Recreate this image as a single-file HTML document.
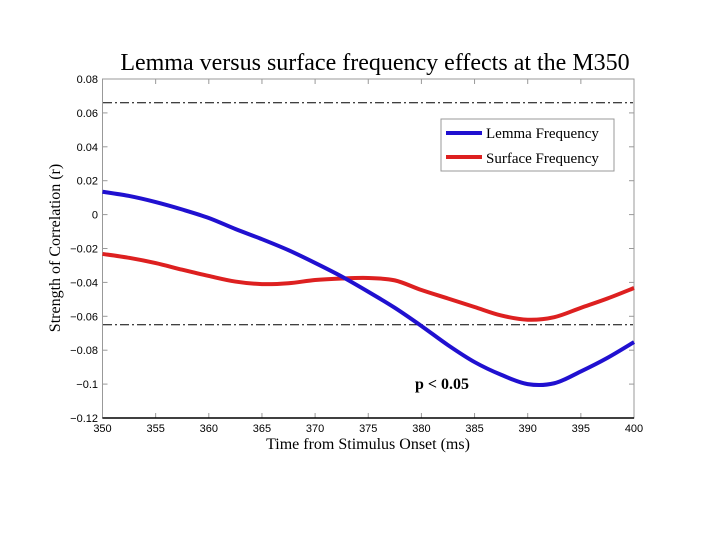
<!DOCTYPE html>
<html><head><meta charset="utf-8"><style>
body{margin:0;background:#fff;width:720px;height:540px;overflow:hidden}
svg text{fill:#000}
</style></head><body>
<svg id="chart" width="720" height="540" xmlns="http://www.w3.org/2000/svg">
<text x="375" y="70" text-anchor="middle" font-family="Liberation Serif, serif" font-size="24">Lemma versus surface frequency effects at the M350</text>
<rect x="102.5" y="79" width="531.5" height="339" fill="none" stroke="#999" stroke-width="1"/>
<g id="axes"></g>
<g id="series"></g>
<text x="415" y="389" font-family="Liberation Serif, serif" font-weight="bold" font-size="16">p &lt; 0.05</text>
<g>
<rect x="441" y="119" width="173" height="52" fill="#fff" stroke="#999"/>
<line x1="446" y1="133" x2="482" y2="133" stroke="#2010d0" stroke-width="4"/>
<text x="486" y="138" font-family="Liberation Serif, serif" font-size="15">Lemma Frequency</text>
<line x1="446" y1="157" x2="482" y2="157" stroke="#dd2020" stroke-width="4"/>
<text x="486" y="163" font-family="Liberation Serif, serif" font-size="15">Surface Frequency</text>
</g>
<text x="368" y="449" text-anchor="middle" font-family="Liberation Serif, serif" font-size="16">Time from Stimulus Onset (ms)</text>
<text transform="translate(60,248) rotate(-90)" text-anchor="middle" font-family="Liberation Serif, serif" font-size="16">Strength of Correlation (r)</text>
</svg>
<script>
const xTicks=[350,355,360,365,370,375,380,385,390,395,400];
const yTicks=[0.08,0.06,0.04,0.02,0,-0.02,-0.04,-0.06,-0.08,-0.1,-0.12];
const yTickLabels=["0.08","0.06","0.04","0.02","0","\u22120.02","\u22120.04","\u22120.06","\u22120.08","\u22120.1","\u22120.12"];
const times=[350,352.5,355,357.5,360,362.5,365,367.5,370,372.5,375,377.5,380,382.5,385,387.5,390,392.5,395,397.5,400];
const lemma=[0.0135,0.011,0.0074,0.003,-0.002,-0.0085,-0.0145,-0.021,-0.0285,-0.0365,-0.0455,-0.055,-0.0657,-0.077,-0.087,-0.0945,-0.1,-0.0995,-0.0925,-0.0845,-0.0752];
const surface=[-0.0232,-0.0255,-0.0286,-0.0325,-0.0362,-0.0395,-0.041,-0.0405,-0.0386,-0.0377,-0.0374,-0.0388,-0.0445,-0.0495,-0.0545,-0.0595,-0.062,-0.0605,-0.055,-0.0495,-0.0433];
const sigLevels=[0.066,-0.065];
const X=v=>102.5+(v-350)/50*531.5, Y=v=>79+(0.08-v)/0.2*339;
const NS="http://www.w3.org/2000/svg";
const ax=document.getElementById('axes'), se=document.getElementById('series');
function mk(tag,a,p){const e=document.createElementNS(NS,tag);for(const k in a)e.setAttribute(k,a[k]);p.appendChild(e);return e;}
xTicks.forEach(t=>{
 const l=mk('line',{x1:X(t),x2:X(t),y1:418,y2:413,stroke:'#999'},ax);
 
 
 mk('line',{x1:X(t),x2:X(t),y1:79,y2:84,stroke:'#999'},ax);
 const tx=mk('text',{x:X(t),y:432,'text-anchor':'middle','font-family':'Liberation Sans, sans-serif','font-size':11},ax);
 tx.textContent=t;
 
 
});
yTicks.forEach((t,i)=>{
 const l=mk('line',{x1:102.5,x2:107.5,y1:Y(t),y2:Y(t),stroke:'#999'},ax);
 
 
 mk('line',{x1:634,x2:629,y1:Y(t),y2:Y(t),stroke:'#999'},ax);
 const tx=mk('text',{x:98,y:Y(t)+4,'text-anchor':'end','font-family':'Liberation Sans, sans-serif','font-size':11},ax);
 tx.textContent=yTickLabels[i];
 
 
});
mk('line',{x1:102.5,x2:634,y1:418,y2:418,stroke:'#000','stroke-width':1.5},ax);
sigLevels.forEach(v=>{
 const l=mk('line',{x1:103,x2:633,y1:Y(v),y2:Y(v),stroke:'#000','stroke-width':1,'stroke-dasharray':'9,3,2,3'},ax);
 
 
});
function path(vals){
 const p=times.map((t,i)=>[X(t),Y(vals[i])]);
 let d='M'+p[0][0]+','+p[0][1];
 for(let i=0;i<p.length-1;i++){
  const p0=p[i-1]||p[i],p1=p[i],p2=p[i+1],p3=p[i+2]||p2;
  d+=' C'+(p1[0]+(p2[0]-p0[0])/6)+','+(p1[1]+(p2[1]-p0[1])/6)+' '+(p2[0]-(p3[0]-p1[0])/6)+','+(p2[1]-(p3[1]-p1[1])/6)+' '+p2[0]+','+p2[1];
 }
 return d;
}
const s=mk('path',{d:path(surface),fill:'none',stroke:'#dd2020','stroke-width':4},se);


const b=mk('path',{d:path(lemma),fill:'none',stroke:'#2010d0','stroke-width':4},se);


</script>
</body></html>
